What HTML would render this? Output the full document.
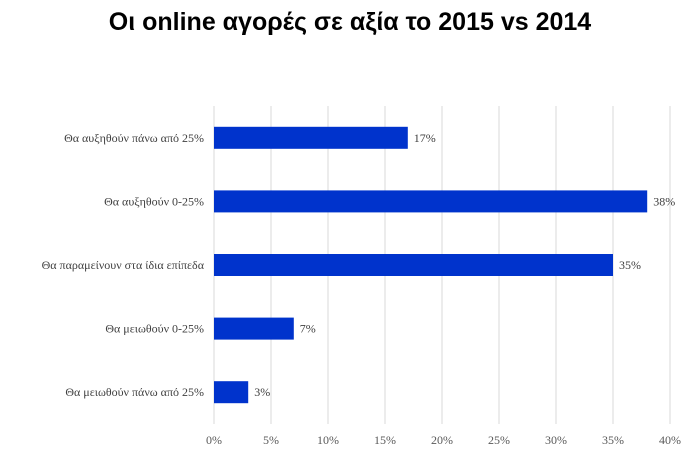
<!DOCTYPE html>
<html><head><meta charset="utf-8"><style>
body{margin:0;background:#fff;}
svg{display:block;}
</style></head><body>
<svg width="700" height="466">
<text x="350" y="30" text-anchor="middle" font-family="Liberation Sans, sans-serif" font-weight="bold" font-size="25" fill="#000">Οι online αγορές σε αξία το 2015 vs 2014</text>
<g id="grid"></g>
<g id="bars"></g>
<g id="ticks"></g>
</svg>
<script>
const categories=["Θα αυξηθούν πάνω από 25%","Θα αυξηθούν 0-25%","Θα παραμείνουν στα ίδια επίπεδα","Θα μειωθούν 0-25%","Θα μειωθούν πάνω από 25%"];
const values=[17,38,35,7,3];
const tickValues=[0,5,10,15,20,25,30,35,40];
const tickLabels=["0%","5%","10%","15%","20%","25%","30%","35%","40%"];
const NS="http://www.w3.org/2000/svg";
const x0=214,xMax=40,plotW=456,plotTop=106,plotBottom=424;
const xs=v=>x0+v/xMax*plotW;
const band=(plotBottom-plotTop)/categories.length;
const yc=i=>plotTop+band*(i+0.5);
function mk(t,a,p){const e=document.createElementNS(NS,t);for(const k in a)e.setAttribute(k,a[k]);p.appendChild(e);return e;}
const g=document.getElementById('grid'),b=document.getElementById('bars'),tk=document.getElementById('ticks');
tickValues.forEach((v,i)=>{
 const l=mk('line',{x1:xs(v),x2:xs(v),y1:plotTop,y2:plotBottom,stroke:'#d9d9d9','stroke-width':1},g);
 
 
 const t=mk('text',{x:xs(v),y:444,'text-anchor':'middle','font-family':'Liberation Serif, serif','font-size':12,fill:'#595959'},tk);
 t.textContent=tickLabels[i];
 
 
});
categories.forEach((c,i)=>{
 const y=yc(i);
 const r=mk('rect',{x:x0,y:y-11,width:xs(values[i])-x0,height:22,fill:'#0033cc'},b);
 
 
 const lt=mk('text',{x:xs(values[i])+6,y:y+4,'font-family':'Liberation Serif, serif','font-size':12,fill:'#404040'},b);
 lt.textContent=values[i]+'%';
 
 
 const ct=mk('text',{x:204,y:y+4,'text-anchor':'end','font-family':'Liberation Serif, serif','font-size':12,fill:'#404040'},b);
 ct.textContent=c;
 
 
});
</script>
</body></html>
